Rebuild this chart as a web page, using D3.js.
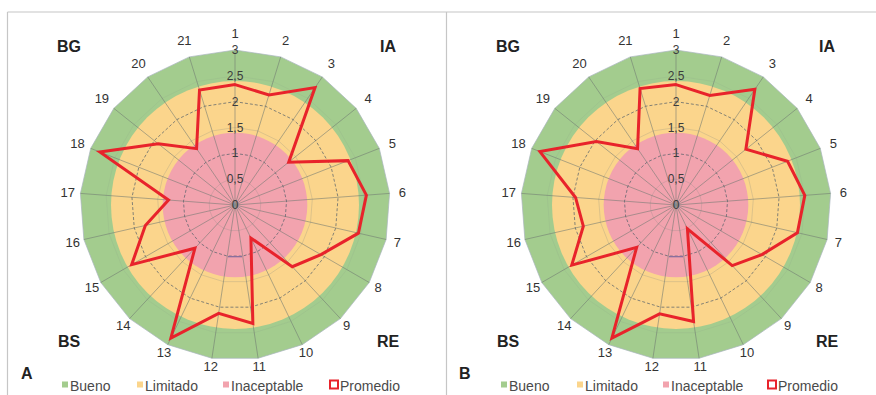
<!DOCTYPE html>
<html>
<head>
<meta charset="utf-8">
<script src="https://cdn.jsdelivr.net/npm/d3@7"></script>
<style>
  html, body { margin: 0; padding: 0; background: #fff; }
  svg { display: block; font-family: "Liberation Sans", Arial, sans-serif; }
</style>
</head>
<body>
<svg id="chart" width="876" height="395"></svg>
<script>
// Criteria (axes) of the radar, clockwise from the top
const axisLabels = ["1","2","3","4","5","6","7","8","9","10","11","12","13","14","15","16","17","18","19","20","21"];

// Radial ticks
const tickValues = [0, 0.5, 1, 1.5, 2, 2.5, 3];
const tickLabels = ["0", "0,5", "1", "1,5", "2", "2,5", "3"];

// Qualification bands (upper limit of each band)
const bandNames  = ["Bueno", "Limitado", "Inaceptable"];
const bandLimits = [3, 2.4, 1.4];
const bandColors = ["#a3cc8e", "#fbd58c", "#f2a3ae"];

// Mean score per criterion, panel A and panel B
const promedioA = [2.33, 2.23, 2.75, 1.33, 2.35, 2.55, 2.45, 1.92, 1.63, 0.71, 2.32,
                   2.12, 2.86, 1.14, 2.31, 1.78, 1.29, 2.81, 1.90, 1.32, 2.33];
const promedioB = [2.33, 2.22, 2.71, 1.73, 2.32, 2.50, 2.41, 1.92, 1.60, 0.51, 2.28,
                   2.13, 2.86, 1.12, 2.33, 1.84, 1.95, 2.83, 1.97, 1.32, 2.36];

// Dimension labels at the corners of each panel
const cornerLabels = ["BG", "IA", "BS", "RE"];
const panelLetters = ["A", "B"];

const svg = d3.select("#chart");
const lineRed = "#e8232b";

// Panel frame
svg.append("line").attr("x1", 7.5).attr("x2", 876).attr("y1", 12).attr("y2", 12)
  .attr("stroke", "#c6c6c6").attr("stroke-width", 1.2);
svg.append("line").attr("x1", 7.5).attr("x2", 7.5).attr("y1", 12).attr("y2", 395)
  .attr("stroke", "#c6c6c6").attr("stroke-width", 1.2);
svg.append("line").attr("x1", 446.5).attr("x2", 446.5).attr("y1", 12).attr("y2", 395)
  .attr("stroke", "#c6c6c6").attr("stroke-width", 1.2);

function drawPanel(cfg) {
  const g = svg.append("g").attr("transform", `translate(${cfg.cx},${cfg.cy})`);
  const R = 155;
  const r = d3.scaleLinear().domain([0, 3]).range([0, R]);
  const angle = d3.scalePoint().domain(axisLabels)
    .range([0, 2 * Math.PI * (axisLabels.length - 1) / axisLabels.length]);
  const pt = (a, v) => [Math.sin(a) * r(v), -Math.cos(a) * r(v)];

  const polyLine = d3.line().curve(d3.curveLinearClosed);
  const ring = v => polyLine(axisLabels.map(k => pt(angle(k), v)));

  // Bands: outer 21-gon, inner circles
  g.append("path").attr("d", ring(bandLimits[0]))
    .attr("fill", bandColors[0]).attr("stroke", "#a9b4bf").attr("stroke-width", 0.7);
  g.append("circle").attr("r", r(bandLimits[1])).attr("fill", bandColors[1]);
  g.append("circle").attr("r", r(bandLimits[2])).attr("fill", bandColors[2]);

  // Spokes
  g.selectAll(".spoke").data(axisLabels).join("line")
    .attr("x1", 0).attr("y1", 0)
    .attr("x2", d => pt(angle(d), 3)[0]).attr("y2", d => pt(angle(d), 3)[1])
    .attr("stroke", "#6f7872").attr("stroke-width", 0.7).attr("stroke-opacity", 0.8);

  // Concentric grid
  tickValues.filter(v => v > 0 && v < 3).forEach(v => {
    const whole = Number.isInteger(v);
    g.append("path").attr("d", ring(v))
      .attr("fill", "none")
      .attr("stroke", whole ? "#55606a" : "#7d8580")
      .attr("stroke-width", whole ? 0.9 : 0.6)
      .attr("stroke-opacity", whole ? 0.8 : (v > 2 ? 0.18 : 0.4))
      .attr("stroke-dasharray", whole ? "3,2" : null);
  });

  // Small marker at value 1 straight below the centre
  g.append("line").attr("x1", -7).attr("x2", 7).attr("y1", r(1)).attr("y2", r(1))
    .attr("stroke", "#8a6f9e").attr("stroke-width", 1.3);

  // Centre dot
  g.append("circle").attr("r", 3).attr("fill", "#8b9196").attr("opacity", 0.7);

  // Mean series
  g.append("path")
    .attr("d", polyLine(cfg.values.map((v, i) => pt(angle(axisLabels[i]), v))))
    .attr("fill", "none").attr("stroke", lineRed).attr("stroke-width", 3)
    .attr("stroke-linejoin", "miter");

  // Tick labels along axis 1
  g.selectAll(".tick").data(tickValues).join("text")
    .attr("x", 0).attr("y", d => -r(d))
    .attr("text-anchor", "middle").attr("dominant-baseline", "central")
    .attr("font-size", 12).attr("fill", "#3c3c3c")
    .text((d, i) => tickLabels[i]);

  // Axis labels (slightly further out at the top than at the bottom)
  const labelR = a => R + 12.5 + 4.5 * Math.cos(a);
  g.selectAll(".axl").data(axisLabels).join("text")
    .attr("x", d => Math.sin(angle(d)) * labelR(angle(d)))
    .attr("y", d => -Math.cos(angle(d)) * labelR(angle(d)))
    .attr("text-anchor", "middle").attr("dominant-baseline", "central")
    .attr("font-size", 13).attr("fill", "#333")
    .text(d => d);

  // Corner labels
  const cx = [cfg.cornerLeft, cfg.cornerRight, cfg.cornerLeft, cfg.cornerRight];
  const cy = [46, 46, 341, 341];
  cornerLabels.forEach((t, i) => {
    svg.append("text").attr("x", cx[i]).attr("y", cy[i])
      .attr("text-anchor", "middle").attr("dominant-baseline", "central")
      .attr("font-size", 16).attr("font-weight", "bold").attr("fill", "#222")
      .text(t);
  });

  // Panel letter
  svg.append("text").attr("x", cfg.letterX).attr("y", 373)
    .attr("dominant-baseline", "central")
    .attr("font-size", 16).attr("font-weight", "bold").attr("fill", "#222")
    .text(cfg.letter);

  // Legend
  const items = bandNames.map((n, i) => ({ name: n, color: bandColors[i], hollow: false }))
    .concat([{ name: "Promedio", color: lineRed, hollow: true }]);
  items.forEach((it, i) => {
    const x = cfg.legendX[i];
    if (it.hollow) {
      svg.append("rect").attr("x", x - 1).attr("y", 380.5).attr("width", 8).attr("height", 8)
        .attr("fill", "#fff").attr("stroke", it.color).attr("stroke-width", 2);
    } else {
      svg.append("rect").attr("x", x).attr("y", 381.5).attr("width", 6).attr("height", 6)
        .attr("fill", it.color);
    }
    svg.append("text").attr("x", x + (it.hollow ? 9 : 8)).attr("y", 386)
      .attr("dominant-baseline", "central")
      .attr("font-size", 14).attr("fill", "#4a4a4a")
      .text(it.name);
  });
}

drawPanel({ cx: 235, cy: 205, values: promedioA, letter: panelLetters[0], letterX: 21,
  cornerLeft: 69, cornerRight: 388, legendX: [62, 137, 223, 331] });
drawPanel({ cx: 676, cy: 205, values: promedioB, letter: panelLetters[1], letterX: 459,
  cornerLeft: 508, cornerRight: 827, legendX: [501, 577, 663, 769] });
</script>
</body>
</html>
